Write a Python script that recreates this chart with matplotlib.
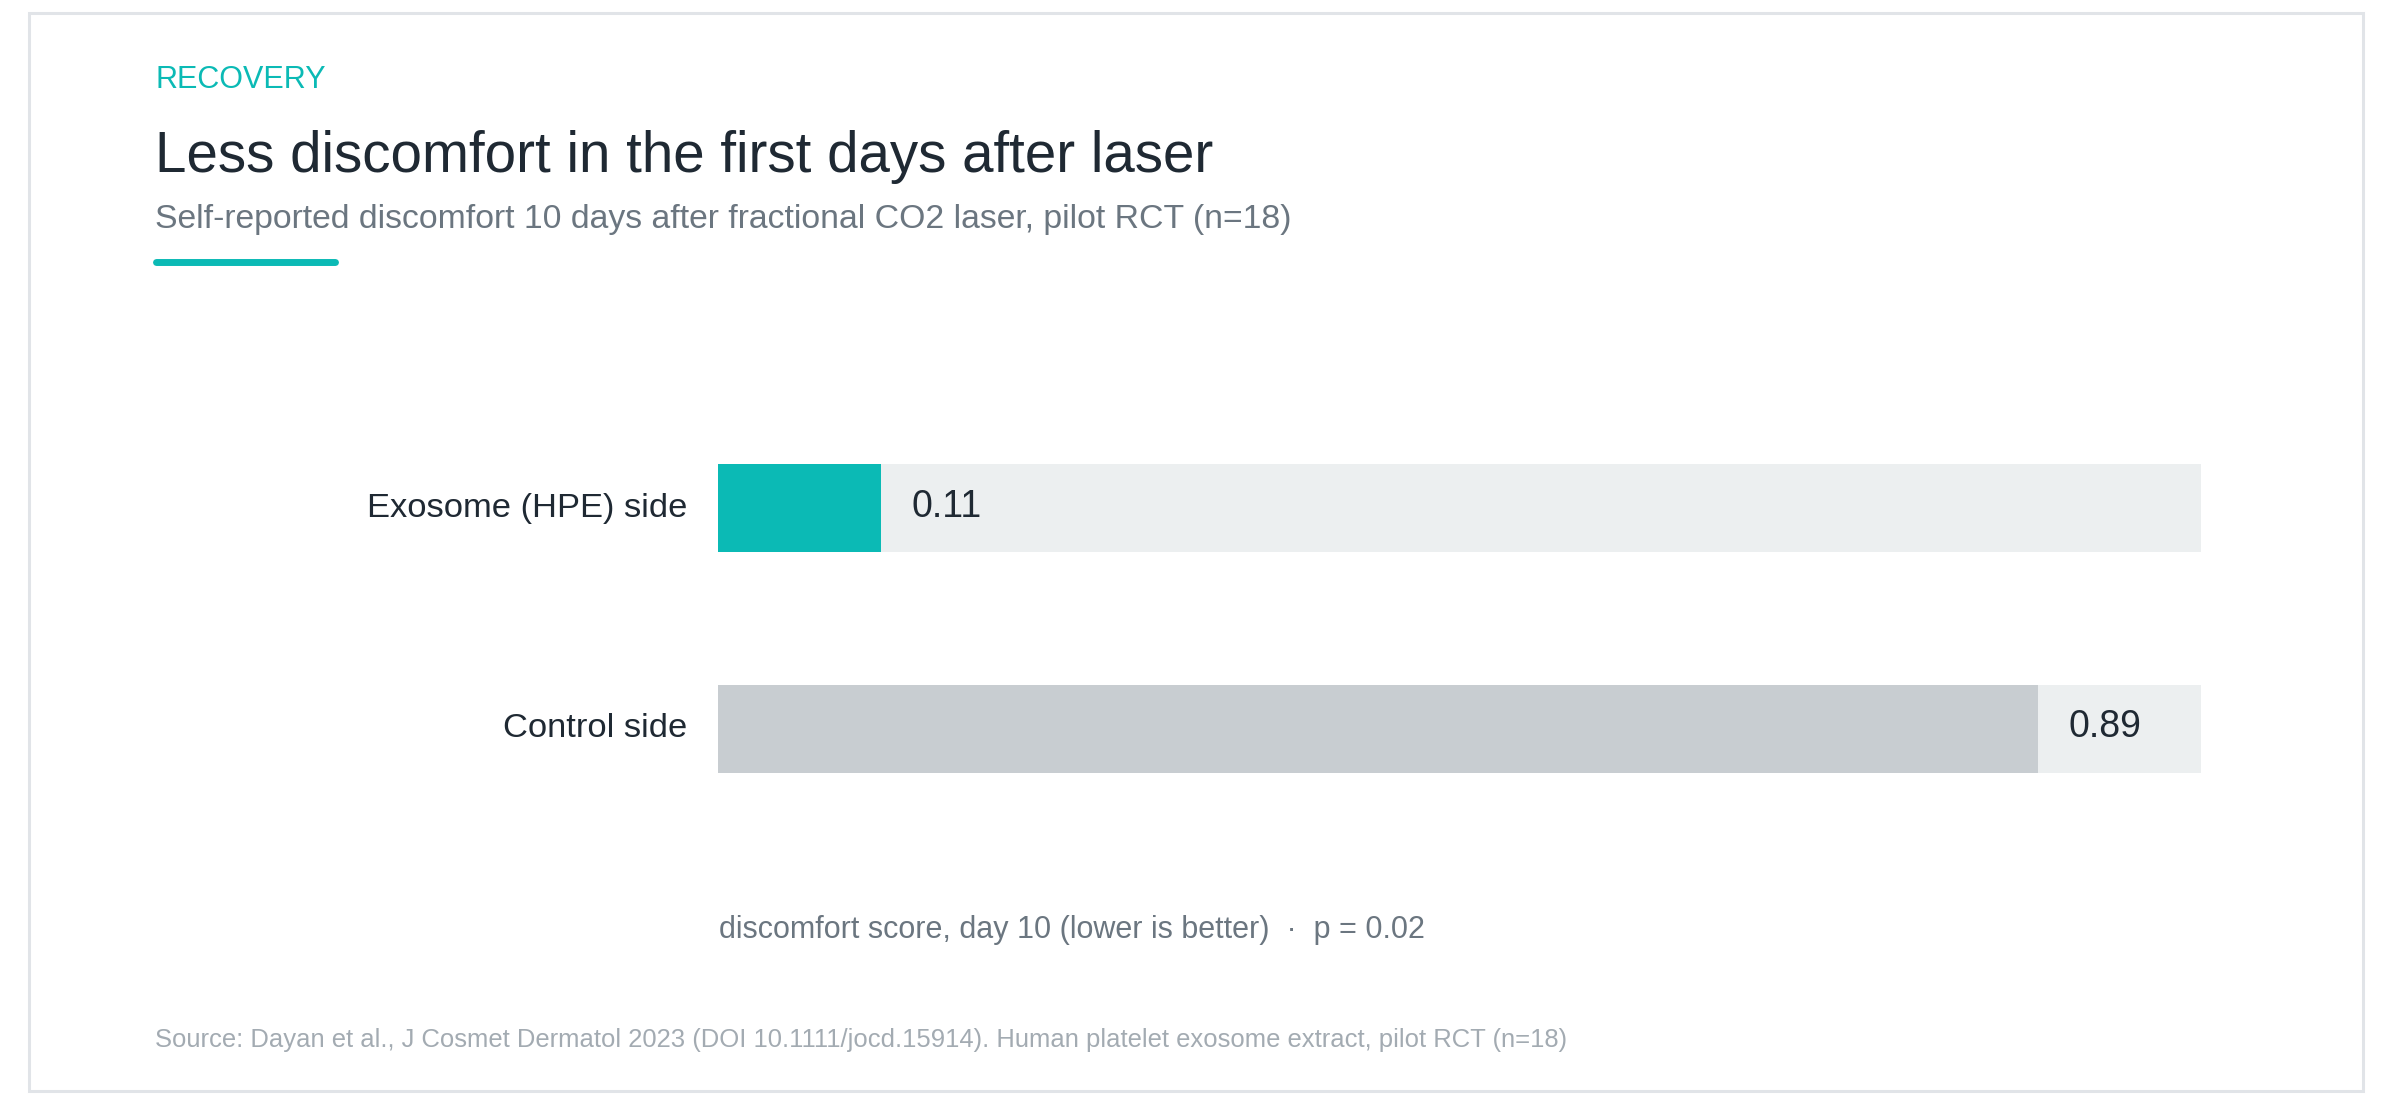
import matplotlib
matplotlib.use("Agg")
import matplotlib.pyplot as plt
from matplotlib.patches import Rectangle
from matplotlib.lines import Line2D

plt.rcParams["font.family"] = ["Liberation Sans", "DejaVu Sans"]

# data
categories = ["Control side", "Exosome (HPE) side"]
values = [0.89, 0.11]
value_labels = ["0.89", "0.11"]
scale_max = 1.0

TEAL = "#0bbab5"
GREY_BAR = "#c8cdd1"
TRACK = "#eceff0"
DARK = "#1f2933"
MUTED = "#6b7680"
LIGHT = "#a3abb2"

W, H = 2392, 1104
fig = plt.figure(figsize=(W / 100, H / 100), dpi=100)


def fx(px):
    return px / W


def fy(py):
    return 1 - py / H


# card outline
fig.add_artist(Rectangle((fx(29), fy(1091)), fx(2363 - 29), (1091 - 13) / H,
                         transform=fig.transFigure, facecolor="white",
                         edgecolor="#e1e4e8", linewidth=2.2, zorder=0))

# header
fig.text(fx(155), fy(88), "RECOVERY", color=TEAL, fontsize=22, va="baseline")
fig.text(fx(155), fy(172), "Less discomfort in the first days after laser",
         color=DARK, fontsize=40.7, va="baseline")
fig.text(fx(155), fy(228),
         "Self-reported discomfort 10 days after fractional CO2 laser, pilot RCT (n=18)",
         color=MUTED, fontsize=24.3, va="baseline")
fig.add_artist(Line2D([fx(156), fx(335)], [fy(262), fy(262)], transform=fig.transFigure,
                      color=TEAL, linewidth=5, solid_capstyle="round"))

# bars
ax = fig.add_axes([fx(718), fy(773), fx(2201 - 718), (773 - 464) / H])
ypos = list(range(len(categories)))
colors = [GREY_BAR, TEAL]
ax.barh(ypos, [scale_max] * len(ypos), height=0.4, color=TRACK, zorder=1)
ax.barh(ypos, values, height=0.4, color=colors, zorder=2)
for y, v, lab in zip(ypos, values, value_labels):
    ax.annotate(lab, (v, y), xytext=(22, 1), textcoords="offset points",
                va="center", ha="left", fontsize=27, color=DARK, zorder=3)
for y, cat in zip(ypos, categories):
    ax.annotate(cat, (0, y), xytext=(-22, 0), textcoords="offset points",
                va="center", ha="right", fontsize=24.8, color=DARK,
                annotation_clip=False)

ax.set_xlim(0, scale_max)
ax.set_ylim(-0.2, 1.2)
ax.set_xticks([])
ax.set_yticks([])
for s in ax.spines.values():
    s.set_visible(False)
ax.patch.set_alpha(0)

# notes
fig.text(fx(719), fy(938), "discomfort score, day 10 (lower is better)  \u00b7  p = 0.02",
         color=MUTED, fontsize=22, va="baseline")
fig.text(fx(155), fy(1047),
         "Source: Dayan et al., J Cosmet Dermatol 2023 (DOI 10.1111/jocd.15914). "
         "Human platelet exosome extract, pilot RCT (n=18)",
         color=LIGHT, fontsize=18.45, va="baseline")

fig.savefig("out.png", dpi=100)
plt.close(fig)
